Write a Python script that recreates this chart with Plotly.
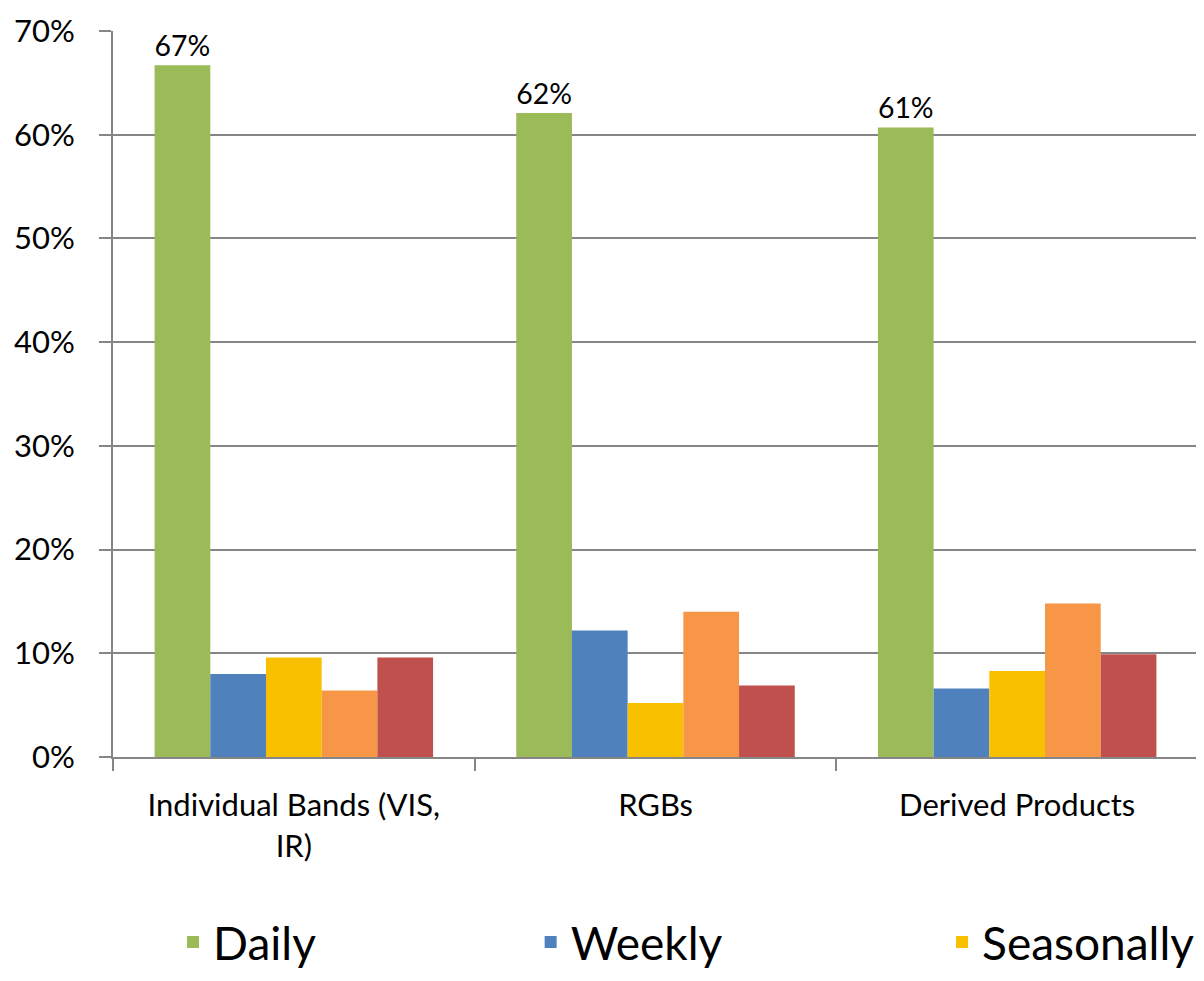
import plotly.graph_objects as go

categories = ["Individual Bands (VIS,<br>IR)", "RGBs", "Derived Products"]
series_names = ["Daily", "Weekly", "Seasonally", "Monthly", "Rarely"]
daily = [0.667, 0.621, 0.607]
weekly = [0.080, 0.122, 0.066]
seasonally = [0.096, 0.052, 0.083]
monthly = [0.064, 0.140, 0.148]
rarely = [0.096, 0.069, 0.099]

colors = ["#9BBB59", "#4F81BD", "#F9C000", "#F79646", "#C0504D"]
values = [daily, weekly, seasonally, monthly, rarely]
legend_ids = ["legend", "legend2", "legend3", None, None]

FONT = "Lato"

fig = go.Figure()
for i, (name, vals) in enumerate(zip(series_names, values)):
    fig.add_trace(go.Bar(
        x=categories,
        y=vals,
        name=name,
        marker=dict(color=colors[i], line=dict(width=0)),
        texttemplate="%{y:.0%}" if i == 0 else None,
        textposition="outside" if i == 0 else "none",
        textfont=dict(family=FONT, size=31, color="#000000"),
        cliponaxis=False,
        showlegend=legend_ids[i] is not None,
        legend=legend_ids[i] or "legend",
    ))

# page body has an 8px margin, so the figure is sized to fit the window
legend_style = dict(
    orientation="h",
    xref="container",
    yref="container",
    y=0.040,
    xanchor="left",
    yanchor="middle",
    font=dict(family=FONT, size=46, color="#000000"),
    bgcolor="rgba(0,0,0,0)",
)

fig.update_layout(
    width=1196,
    height=973,
    margin=dict(l=105, r=6, t=23, b=224),
    plot_bgcolor="white",
    paper_bgcolor="white",
    barmode="group",
    bargap=0.23,
    bargroupgap=0,
    font=dict(family=FONT, size=31, color="#000000"),
    legend=dict(x=0.138, **legend_style),
    legend2=dict(x=0.437, **legend_style),
    legend3=dict(x=0.781, **legend_style),
)

fig.update_xaxes(
    automargin=False,
    showline=True,
    linecolor="#868686",
    linewidth=2,
    ticks="outside",
    tickson="boundaries",
    ticklen=12,
    tickwidth=2,
    tickcolor="#868686",
    ticklabelstandoff=20,
    tickfont=dict(family=FONT, size=31),
)

fig.update_yaxes(
    automargin=False,
    range=[0, 0.7],
    dtick=0.1,
    tickformat=".0%",
    showline=True,
    linecolor="#868686",
    linewidth=2,
    showgrid=True,
    gridcolor="#868686",
    gridwidth=2,
    zeroline=False,
    ticks="outside",
    ticklen=12,
    tickwidth=2,
    tickcolor="#868686",
    ticklabelstandoff=18,
    tickfont=dict(family=FONT, size=31),
)

fig.write_html("out.html")
